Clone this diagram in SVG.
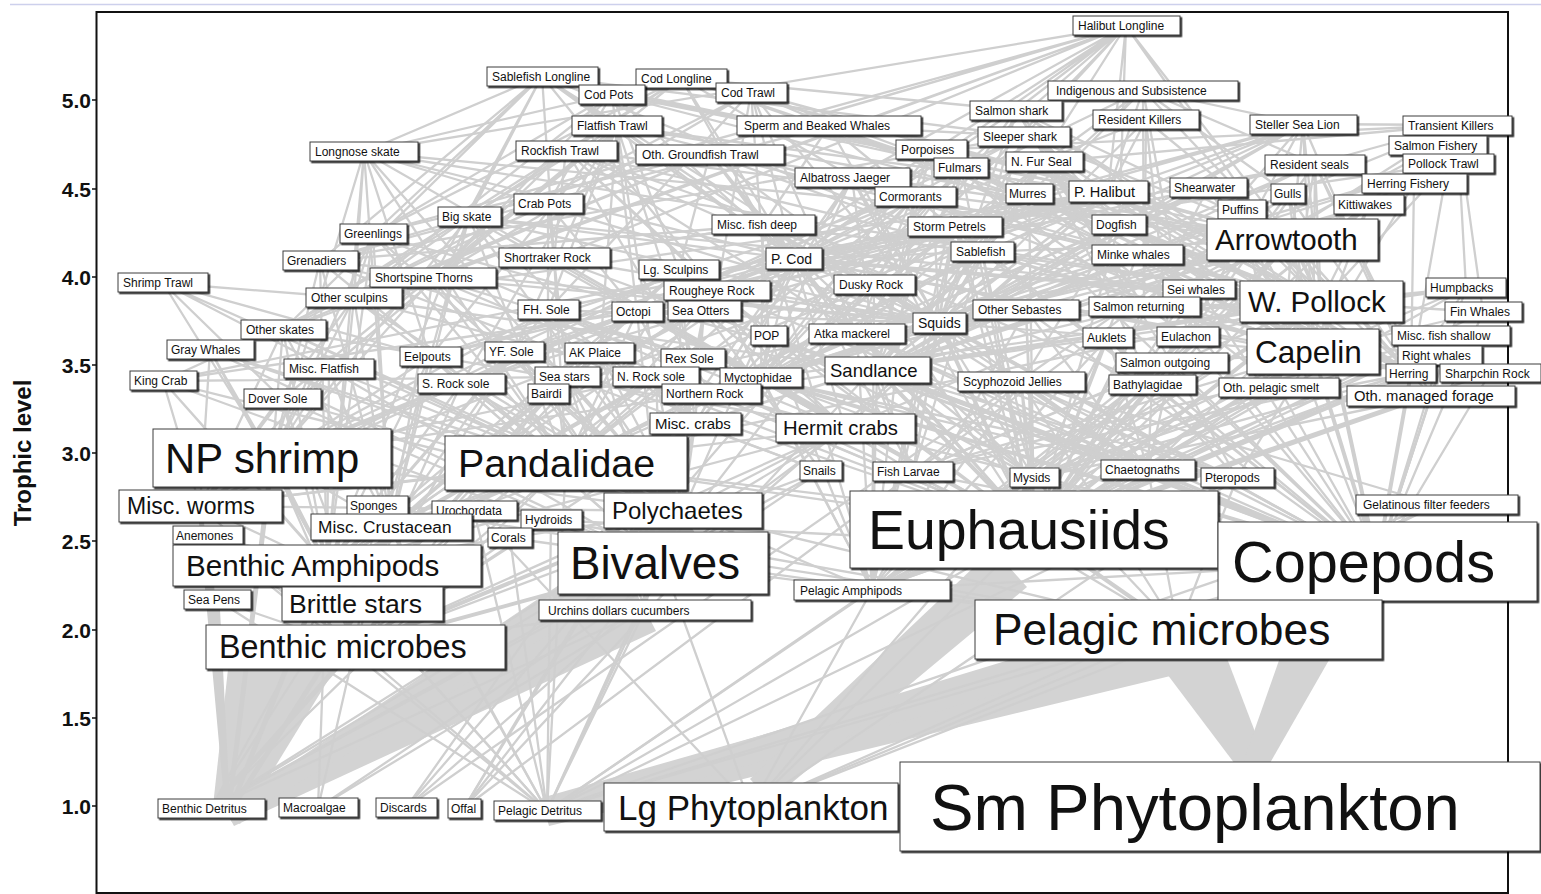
<svg xmlns="http://www.w3.org/2000/svg" width="1541" height="894" viewBox="0 0 1541 894">
<defs>
<filter id="sh" x="-5%" y="-10%" width="115%" height="140%"><feDropShadow dx="1.6" dy="1.6" stdDeviation="0.4" flood-color="#000" flood-opacity="0.85"/></filter>
<style>
text{font-family:"Liberation Sans",Arial,Helvetica,sans-serif;fill:#111}
.nd rect{fill:#fff;stroke:#3c3c3c;stroke-width:1;filter:url(#sh)}
.nd text{font-size:12px}
#connectors path{fill:none;stroke:#cfcfcf;stroke-width:2.3;stroke-linejoin:round;stroke-linecap:round}
#connectors path.m{stroke-width:4}
#connectors path.t{stroke-width:5}
#connectors polygon{fill:#d3d3d3;stroke:none}
.tick{font-size:21px;font-weight:bold;text-anchor:end}
.nd .f14{font-size:14px}.nd .f145{font-size:14.5px}.nd .f148{font-size:14.8px}.nd .f15{font-size:15px}
.nd .f17{font-size:17.3px}.nd .f18{font-size:18.5px}.nd .f20{font-size:20.3px}.nd .f23{font-size:23px}
.nd .f24{font-size:24px}.nd .f26{font-size:26.6px}.nd .f29{font-size:29.5px}.nd .f296{font-size:29.6px}
.nd .f31{font-size:31.5px}.nd .f32{font-size:32.3px}.nd .f35{font-size:35px}.nd .f39{font-size:39.4px}
.nd .f42{font-size:41.8px}.nd .f44{font-size:44.3px}.nd .f45{font-size:45.7px}.nd .f55{font-size:55.4px}
.nd .f57{font-size:57.7px}.nd .f65{font-size:65.3px}
</style>
</defs>
<rect x="0" y="0" width="1541" height="894" fill="#fff"/>
<line x1="10" y1="4.5" x2="1541" y2="4.5" stroke="#cdd0ec" stroke-width="1.5"/>
<g id="connectors">
<polygon points="213,806 240,824 335,669 228,669"/>
<polygon points="222,804 234,826 656,631 624,569"/>
<polygon points="224,808 232,822 702,544 678,506"/>
<polygon points="541,798 549,826 1187,672 1173,618"/>
<polygon points="542,802 548,822 1305,607 1295,573"/>
<polygon points="750,779 770,801 1027,587 993,549"/>
<polygon points="1241,772 1265,758 1220,640 1164,670"/>
<polygon points="1244,760 1266,770 1356,613 1304,589"/>
<path d="M364 152L1126 26L469 217M373 234L1126 26L320 261M433 278L1126 26L554 258M717 291L1126 26L982 252M1108 192L1126 26L1292 240M1119 225L1126 26L1024 136M1016 110L1126 26L794 259M283 330L1126 26L874 285M961 168L1126 26L852 178M1321 302L1126 26"/>
<path d="M982 252L542 76L320 261M433 278L542 76L554 258M717 291L542 76L364 152M469 217L542 76L1292 240M1108 192L542 76L794 259M1024 136L542 76L1119 225M283 330L542 76L763 225M373 234L542 76L874 285"/>
<path d="M794 259L681 78L1108 192M1292 240L681 78L982 252M364 152L681 78L469 217M433 278L681 78L1321 302M1119 225L681 78L283 330M763 225L681 78L373 234M1016 110L681 78"/>
<path d="M794 259L612 94L1108 192M354 298L612 94L679 270M637 312L612 94L433 278M373 234L612 94L548 204"/>
<path d="M163 381L548 204L548 394M637 312L548 204L567 377"/>
<path d="M794 259L751 92L1321 302M1292 240L751 92L1108 192M433 278L751 92L857 334M548 310L751 92L939 323M717 291L751 92L769 336M283 330L751 92L1411 373"/>
<path d="M548 310L617 126L514 352M600 353L617 126L693 359M461 384L617 126L656 377M282 399L617 126L329 369M1292 240L617 126L1108 192M794 259L617 126L1321 302M283 330L617 126L430 357"/>
<path d="M769 336L566 150L711 394M717 291L566 150L554 258M874 285L566 150L1026 310M1490 373L566 150L857 334M433 278L566 150L1292 240"/>
<path d="M857 334L710 154L794 259M1321 302L710 154L1292 240M354 298L710 154L679 270M939 323L710 154L373 234M982 252L710 154L283 330M763 225L710 154"/>
<path d="M566 463L163 283L272 458M430 357L163 283L329 369M354 298L163 283L282 399"/>
<path d="M566 463L364 152L272 458M391 527L364 152L794 259M1321 302L364 152L939 323M354 298L364 152L430 357M845 428L364 152L327 566M683 511L364 152L1292 240"/>
<path d="M566 463L469 217L272 458M391 527L469 217L845 428M683 511L469 217L430 357M1321 302L469 217L939 323M354 298L469 217L695 424M327 566L469 217L794 259"/>
<path d="M566 463L373 234L272 458M391 527L373 234L327 566M683 511L373 234L845 428M354 298L373 234L877 370"/>
<path d="M566 463L320 261L272 458M763 225L320 261L939 323M761 378L320 261L391 527M1034 530L320 261L327 566"/>
<path d="M566 463L433 278L272 458M763 225L433 278L1034 530M939 323L433 278L761 378M391 527L433 278L683 511"/>
<path d="M566 463L354 298L272 458M391 527L354 298L327 566M683 511L354 298L845 428M200 506L354 298L877 370"/>
<path d="M566 463L283 330L272 458M391 527L283 330L327 566M683 511L283 330L200 506M845 428L283 330"/>
<path d="M683 511L329 369L200 506M327 566L329 369L663 563M391 527L329 369L272 458"/>
<path d="M683 511L282 399L200 506M327 566L282 399L663 563M362 604L282 399"/>
<path d="M327 566L210 350L200 506M683 511L210 350L663 563M566 463L210 350L272 458"/>
<path d="M663 563L163 381L683 511M200 506L163 381L362 604M327 566L163 381L567 377"/>
<path d="M683 511L430 357L327 566M200 506L430 357L566 463M663 563L430 357L391 527M362 604L430 357"/>
<path d="M683 511L514 352L327 566M663 563L514 352L200 506M1034 530L514 352L362 604M391 527L514 352"/>
<path d="M683 511L600 353L663 563M362 604L600 353L327 566M200 506L600 353"/>
<path d="M683 511L693 359L327 566M663 563L693 359L391 527M566 463L693 359"/>
<path d="M566 463L548 310L1034 530M683 511L548 310L327 566M272 458L548 310L695 424M939 323L548 310L761 378"/>
<path d="M683 511L461 384L663 563M327 566L461 384L362 604M200 506L461 384"/>
<path d="M683 511L656 377L663 563M327 566L656 377L362 604"/>
<path d="M663 563L567 377L683 511M362 604L567 377L821 471M645 610L567 377"/>
<path d="M663 563L548 394L683 511M327 566L548 394L362 604M391 527L548 394L355 647"/>
<path d="M1034 530L711 394L1377 562M566 463L711 394"/>
<path d="M566 463L637 312L695 424M845 428L637 312L663 563M548 394L637 312L163 381M272 458L637 312"/>
<path d="M645 610L704 311L663 563M695 424L704 311L845 428M548 394L704 311L637 312M821 471L704 311"/>
<path d="M566 463L679 270L845 428M695 424L679 270L683 511M548 394L679 270L272 458M461 384L679 270L391 527M327 566L679 270"/>
<path d="M566 463L717 291L1034 530M939 323L717 291L761 378M391 527L717 291L1377 562M872 590L717 291"/>
<path d="M761 378L554 258L939 323M1034 530L554 258L566 463M763 225L554 258L1377 562"/>
<path d="M1034 530L874 285L1377 562M761 378L874 285L939 323M872 590L874 285L1148 470"/>
<path d="M1034 530L769 336L1377 562M761 378L769 336L1148 470M872 590L769 336L1034 478"/>
<path d="M1034 530L857 334L1377 562M761 378L857 334L939 323M1237 478L857 334L913 472M872 590L857 334L1034 478M1148 470L857 334"/>
<path d="M1034 530L1026 310L1377 562M761 378L1026 310L939 323M872 590L1026 310L1148 470M1034 478L1026 310"/>
<path d="M1034 530L1490 373L1377 562M872 590L1490 373"/>
<path d="M1034 530L763 225L1377 562M761 378L763 225L939 323M872 590L763 225L1152 385M1034 478L763 225L1148 470"/>
<path d="M1321 302L794 259L566 463M1034 530L794 259L845 428M695 424L794 259L1313 352M877 370L794 259L939 323M272 458L794 259L683 511M327 566L794 259L548 394M1411 373L794 259L913 472M761 378L794 259L857 334M430 357L794 259L514 352"/>
<path d="M1321 302L1292 240L1313 352M1034 530L1292 240L566 463M1411 373L1292 240L939 323M877 370L1292 240L761 378M1188 337L1292 240L1431 396M272 458L1292 240L1152 385M794 259L1292 240L845 428M695 424L1292 240"/>
<path d="M794 259L1108 192L1321 302M1292 240L1108 192L566 463M845 428L1108 192L163 381M877 370L1108 192L939 323M1313 352L1108 192L1411 373M354 298L1108 192L548 394M548 310L1108 192L637 312M430 357L1108 192L514 352M693 359L1108 192L461 384"/>
<path d="M939 323L982 252L1321 302M1034 530L982 252L761 378M1313 352L982 252L1411 373M877 370L982 252L1152 385M566 463L982 252L763 225M913 472L982 252L1034 478"/>
<path d="M939 323L1119 225L1321 302M1411 373L1119 225L1313 352M1034 530L1119 225L1021 382M877 370L1119 225L761 378M566 463L1119 225"/>
<path d="M939 323L1016 110L982 252M1144 307L1016 110L1172 363M1321 302L1016 110L1292 240M1119 225L1016 110L794 259M1411 373L1016 110L857 334"/>
<path d="M939 323L1024 136L637 312M1108 192L1024 136L1292 240M1321 302L1024 136L982 252M794 259L1024 136L320 261"/>
<path d="M1144 307L1143 90L1108 192M1411 373L1143 90L1303 124M1315 164L1143 90L1044 162M1188 337L1143 90L982 252M794 259L1143 90L1029 194M1288 194L1143 90"/>
<path d="M1144 307L1146 120L1108 192M1172 363L1146 120L939 323M794 259L1146 120L1292 240"/>
<path d="M1303 124L1457 125L1315 164M1466 288L1457 125L1137 255M931 150L1457 125L1044 162M1483 312L1457 125L1199 289"/>
<path d="M1321 302L1303 124L1313 352M1411 373L1303 124L857 334M1144 307L1303 124L939 323M877 370L1303 124L794 259M1292 240L1303 124L1188 337M1279 388L1303 124L1108 192M637 312L1303 124L982 252"/>
<path d="M1321 302L1315 164L1313 352M1411 373L1315 164L939 323M877 370L1315 164L1188 337M1279 388L1315 164L637 312M794 259L1315 164L1431 396"/>
<path d="M1144 307L1438 146L1172 363"/>
<path d="M1321 302L1448 164L1411 373M1292 240L1448 164L794 259M857 334L1448 164L939 323"/>
<path d="M1411 373L1414 184L1313 352"/>
<path d="M1034 530L1208 188L939 323M877 370L1208 188L1313 352M761 378L1208 188L1321 302M1411 373L1208 188"/>
<path d="M1313 352L1288 194L877 370M1411 373L1288 194L1321 302M1034 530L1288 194L464 808M406 808L1288 194"/>
<path d="M1313 352L1242 210L877 370M1034 530L1242 210L1321 302M1377 562L1242 210L1279 388"/>
<path d="M1313 352L1369 205L877 370M1034 530L1369 205L761 378M1321 302L1369 205L872 590"/>
<path d="M1313 352L1029 194L877 370M1321 302L1029 194L1034 530M1411 373L1029 194L1279 388"/>
<path d="M939 323L961 168L1034 530M761 378L961 168L464 808M406 808L961 168L877 370M872 590L961 168L1377 562"/>
<path d="M939 323L852 178L761 378M464 808L852 178L406 808M877 370L852 178L1034 530M1321 302L852 178"/>
<path d="M877 370L915 196L1313 352M761 378L915 196L430 357M695 424L915 196L461 384M872 590L915 196L566 463M272 458L915 196"/>
<path d="M1034 530L955 227L1377 562M761 378L955 227L872 590M913 472L955 227L1034 478"/>
<path d="M1321 302L931 150L939 323M1411 373L931 150L1313 352M877 370L931 150L1188 337M761 378L931 150L857 334"/>
<path d="M1321 302L1044 162L939 323M1313 352L1044 162L1411 373M857 334L1044 162L877 370M1152 385L1044 162L761 378M1144 307L1044 162"/>
<path d="M939 323L829 126L982 252M320 261L829 126L763 225M1119 225L829 126L1024 136"/>
<path d="M1321 302L1137 255L1313 352M1411 373L1137 255L1034 530M877 370L1137 255L1377 562M761 378L1137 255"/>
<path d="M1377 562L1199 289L1034 530M1313 352L1199 289"/>
<path d="M1034 530L1466 288L1377 562M1313 352L1466 288L1411 373M877 370L1466 288L1321 302"/>
<path d="M1034 530L1483 312L1377 562M1313 352L1483 312L1321 302"/>
<path d="M1377 562L1440 356L1034 530"/>
<path d="M1034 530L1451 336L1377 562M872 590L1451 336L1034 478M913 472L1451 336"/>
<path d="M1034 530L1431 396L1377 562M872 590L1431 396L1034 478"/>
<path d="M1034 530L1411 373L1377 562M872 590L1411 373L1148 470M1034 478L1411 373L913 472"/>
<path d="M1034 530L1313 352L1377 562M872 590L1313 352L1148 470M1034 478L1313 352L1237 478M913 472L1313 352"/>
<path d="M1034 530L1321 302L1377 562M1313 352L1321 302L761 378M566 463L1321 302L872 590M1148 470L1321 302L1034 478M939 323L1321 302L913 472M272 458L1321 302L877 370M1188 337L1321 302"/>
<path d="M1034 530L939 323L1377 562M761 378L939 323L913 472M872 590L939 323L1313 352M1321 302L939 323L877 370M1034 478L939 323L1148 470"/>
<path d="M1034 530L761 378L1377 562M872 590L761 378L1148 470M1237 478L761 378L1034 478M913 472L761 378"/>
<path d="M1034 530L1152 385L1377 562M872 590L1152 385L1148 470M1034 478L1152 385"/>
<path d="M1034 530L1279 388L1377 562M872 590L1279 388L1034 478"/>
<path d="M1034 530L1188 337L1377 562M1034 478L1188 337L872 590"/>
<path d="M1034 530L1144 307L1313 352M1411 373L1144 307L939 323M877 370L1144 307L1321 302"/>
<path d="M1034 530L1172 363L1377 562M1313 352L1172 363L913 472M1148 470L1172 363L872 590M1237 478L1172 363"/>
<path d="M1034 530L1108 338L1377 562M872 590L1108 338L1148 470M1034 478L1108 338L1237 478"/>
<path d="M1034 530L877 370L1377 562M872 590L877 370L1148 470M1034 478L877 370L1237 478M913 472L877 370"/>
<path d="M1377 562L1021 382L1034 530M913 472L1021 382L1148 470M872 590L1021 382L1237 478M1437 505L1021 382L1178 630M1034 478L1021 382"/>
<path d="M683 511L845 428L663 563M327 566L845 428L355 647M211 808L845 428L200 506M821 471L845 428"/>
<path d="M683 511L695 424L663 563M327 566L695 424L391 527M355 647L695 424L821 471"/>
<path d="M327 566L566 463L391 527M683 511L566 463L200 506M355 647L566 463L1034 530M1377 562L566 463L872 590M211 808L566 463L547 811"/>
<path d="M327 566L272 458L200 506M391 527L272 458L683 511M355 647L272 458"/>
<path d="M355 647L821 471L211 808M318 808L821 471"/>
<path d="M1377 562L913 472L1178 630"/>
<path d="M1377 562L1034 478L1178 630M751 807L1034 478L547 811"/>
<path d="M1377 562L1148 470L1178 630M1034 530L1148 470"/>
<path d="M1178 630L1237 478L547 811M751 807L1237 478"/>
<path d="M355 647L200 506M327 566L200 506"/>
<path d="M355 647L377 506L211 808M547 811L377 506L1178 630"/>
<path d="M751 807L474 511L547 811M355 647L474 511"/>
<path d="M355 647L683 511L211 808M547 811L683 511L327 566M200 506L683 511L1178 630"/>
<path d="M1377 562L551 520L1178 630M355 647L551 520L547 811"/>
<path d="M355 647L391 527L211 808M547 811L391 527"/>
<path d="M1377 562L1034 530L1178 630M751 807L1034 530L547 811M872 590L1034 530"/>
<path d="M1178 630L1437 505L547 811M751 807L1437 505"/>
<path d="M355 647L208 535L327 566M547 811L208 535"/>
<path d="M1178 630L510 538L355 647M547 811L510 538"/>
<path d="M355 647L663 563L211 808M547 811L663 563L1178 630M751 807L663 563"/>
<path d="M1178 630L1377 562L547 811M751 807L1377 562"/>
<path d="M355 647L327 566M547 811L327 566L318 808"/>
<path d="M355 647L217 600M547 811L217 600"/>
<path d="M547 811L362 604"/>
<path d="M1377 562L872 590L1178 630M751 807L872 590L547 811"/>
<path d="M355 647L645 610L211 808M318 808L645 610L547 811"/>
<path d="M547 811L1178 630L751 807"/>
<path d="M547 811L355 647M318 808L355 647"/>
<path d="M794 259L464 808L982 252M406 808L1108 192"/>
<path class="t" d="M200 506L228 815L217 600M208 535L228 815L327 566M272 458L228 815L362 604M211 808L355 647"/>
<path class="m" d="M1034 530L1321 302L1377 562M1034 530L1313 352L1377 562M1034 530L1411 373L1377 562M1034 530L877 370L1377 562M1034 530L761 378L1377 562M1034 530L939 323L761 378M1321 302L1292 240M1321 302L794 259M327 566L566 463L683 511M327 566L272 458L200 506M355 647L683 511M355 647L663 563M1178 630L1034 530"/>
</g>
<rect id="frame" x="96.5" y="12" width="1411.5" height="881" fill="none" stroke="#111" stroke-width="2"/>
<g id="axis">
<path d="M92 100H97M92 189H97M92 277H97M92 365H97M92 453H97M92 541H97M92 630H97M92 718H97M92 806H97" stroke="#111" stroke-width="1.5"/>
<text class="tick" x="91" y="108">5.0</text>
<text class="tick" x="91" y="197">4.5</text>
<text class="tick" x="91" y="285">4.0</text>
<text class="tick" x="91" y="373">3.5</text>
<text class="tick" x="91" y="461">3.0</text>
<text class="tick" x="91" y="549">2.5</text>
<text class="tick" x="91" y="638">2.0</text>
<text class="tick" x="91" y="726">1.5</text>
<text class="tick" x="91" y="814">1.0</text>
<text transform="translate(31,453) rotate(-90)" text-anchor="middle" font-size="24" font-weight="bold">Trophic level</text>
</g>
<g id="nodes">
<g id="halibut-longline" class="nd"><rect x="1073" y="16" width="107" height="19"/><text x="1078" y="30">Halibut Longline</text></g>
<g id="sablefish-longline" class="nd"><rect x="487" y="67" width="111" height="19"/><text x="492" y="81">Sablefish Longline</text></g>
<g id="cod-longline" class="nd"><rect x="636" y="69" width="91" height="19"/><text x="641" y="83">Cod Longline</text></g>
<g id="cod-pots" class="nd"><rect x="579" y="85" width="66" height="19"/><text x="584" y="99">Cod Pots</text></g>
<g id="cod-trawl" class="nd"><rect x="716" y="83" width="71" height="19"/><text x="721" y="97">Cod Trawl</text></g>
<g id="indigenous-subsistence" class="nd"><rect x="1048" y="81" width="190" height="19"/><text x="1056" y="95">Indigenous and Subsistence</text></g>
<g id="salmon-shark" class="nd"><rect x="970" y="101" width="92" height="19"/><text x="975" y="115">Salmon shark</text></g>
<g id="flatfish-trawl" class="nd"><rect x="572" y="116" width="90" height="19"/><text x="577" y="130">Flatfish Trawl</text></g>
<g id="sperm-beaked-whales" class="nd"><rect x="737" y="116" width="184" height="19"/><text x="744" y="130">Sperm and Beaked Whales</text></g>
<g id="resident-killers" class="nd"><rect x="1093" y="110" width="106" height="19"/><text x="1098" y="124">Resident Killers</text></g>
<g id="steller-sea-lion" class="nd"><rect x="1250" y="115" width="107" height="19"/><text x="1255" y="129">Steller Sea Lion</text></g>
<g id="transient-killers" class="nd"><rect x="1403" y="116" width="109" height="19"/><text x="1408" y="130">Transient Killers</text></g>
<g id="sleeper-shark" class="nd"><rect x="978" y="127" width="92" height="19"/><text x="983" y="141">Sleeper shark</text></g>
<g id="longnose-skate" class="nd"><rect x="310" y="142" width="108" height="19"/><text x="315" y="156">Longnose skate</text></g>
<g id="rockfish-trawl" class="nd"><rect x="516" y="141" width="101" height="19"/><text x="521" y="155">Rockfish Trawl</text></g>
<g id="oth-groundfish-trawl" class="nd"><rect x="636" y="145" width="148" height="19"/><text x="642" y="159">Oth. Groundfish Trawl</text></g>
<g id="porpoises" class="nd"><rect x="896" y="140" width="71" height="19"/><text x="901" y="154">Porpoises</text></g>
<g id="salmon-fishery" class="nd"><rect x="1389" y="136" width="98" height="19"/><text x="1394" y="150">Salmon Fishery</text></g>
<g id="fulmars" class="nd"><rect x="934" y="158" width="54" height="19"/><text x="938" y="172">Fulmars</text></g>
<g id="n-fur-seal" class="nd"><rect x="1006" y="152" width="77" height="19"/><text x="1011" y="166">N. Fur Seal</text></g>
<g id="resident-seals" class="nd"><rect x="1265" y="155" width="100" height="19"/><text x="1270" y="169">Resident seals</text></g>
<g id="pollock-trawl" class="nd"><rect x="1403" y="154" width="91" height="19"/><text x="1408" y="168">Pollock Trawl</text></g>
<g id="albatross-jaeger" class="nd"><rect x="795" y="168" width="115" height="19"/><text x="800" y="182">Albatross Jaeger</text></g>
<g id="herring-fishery" class="nd"><rect x="1362" y="174" width="105" height="19"/><text x="1367" y="188">Herring Fishery</text></g>
<g id="cormorants" class="nd"><rect x="875" y="187" width="81" height="19"/><text x="879" y="201">Cormorants</text></g>
<g id="murres" class="nd"><rect x="1006" y="184" width="47" height="19"/><text x="1009" y="198">Murres</text></g>
<g id="p-halibut" class="nd"><rect x="1069" y="181" width="79" height="21"/><text class="f145" x="1074" y="197">P. Halibut</text></g>
<g id="shearwater" class="nd"><rect x="1170" y="178" width="77" height="19"/><text x="1174" y="192">Shearwater</text></g>
<g id="gulls" class="nd"><rect x="1271" y="184" width="34" height="19"/><text x="1274" y="198">Gulls</text></g>
<g id="puffins" class="nd"><rect x="1218" y="200" width="48" height="19"/><text x="1222" y="214">Puffins</text></g>
<g id="kittiwakes" class="nd"><rect x="1334" y="195" width="70" height="19"/><text x="1338" y="209">Kittiwakes</text></g>
<g id="crab-pots" class="nd"><rect x="514" y="194" width="69" height="19"/><text x="518" y="208">Crab Pots</text></g>
<g id="big-skate" class="nd"><rect x="438" y="207" width="63" height="19"/><text x="442" y="221">Big skate</text></g>
<g id="greenlings" class="nd"><rect x="340" y="224" width="67" height="19"/><text x="344" y="238">Greenlings</text></g>
<g id="misc-fish-deep" class="nd"><rect x="712" y="215" width="103" height="19"/><text x="717" y="229">Misc. fish deep</text></g>
<g id="storm-petrels" class="nd"><rect x="908" y="217" width="94" height="19"/><text x="913" y="231">Storm Petrels</text></g>
<g id="dogfish" class="nd"><rect x="1092" y="215" width="54" height="19"/><text x="1096" y="229">Dogfish</text></g>
<g id="arrowtooth" class="nd"><rect x="1207" y="219" width="171" height="41"/><text class="f29" x="1215" y="250">Arrowtooth</text></g>
<g id="grenadiers" class="nd"><rect x="283" y="251" width="75" height="19"/><text x="287" y="265">Grenadiers</text></g>
<g id="shortraker-rock" class="nd"><rect x="499" y="248" width="111" height="19"/><text x="504" y="262">Shortraker Rock</text></g>
<g id="p-cod" class="nd"><rect x="766" y="248" width="56" height="21"/><text class="f14" x="771" y="264">P. Cod</text></g>
<g id="sablefish" class="nd"><rect x="951" y="242" width="63" height="19"/><text x="956" y="256">Sablefish</text></g>
<g id="minke-whales" class="nd"><rect x="1092" y="245" width="91" height="19"/><text x="1097" y="259">Minke whales</text></g>
<g id="shrimp-trawl" class="nd"><rect x="118" y="273" width="90" height="19"/><text x="123" y="287">Shrimp Trawl</text></g>
<g id="shortspine-thorns" class="nd"><rect x="370" y="268" width="126" height="19"/><text x="375" y="282">Shortspine Thorns</text></g>
<g id="lg-sculpins" class="nd"><rect x="639" y="260" width="80" height="19"/><text x="643" y="274">Lg. Sculpins</text></g>
<g id="rougheye-rock" class="nd"><rect x="664" y="281" width="106" height="19"/><text x="669" y="295">Rougheye Rock</text></g>
<g id="dusky-rock" class="nd"><rect x="834" y="275" width="81" height="19"/><text x="839" y="289">Dusky Rock</text></g>
<g id="sei-whales" class="nd"><rect x="1163" y="280" width="72" height="18"/><text x="1167" y="293.5">Sei whales</text></g>
<g id="w-pollock" class="nd"><rect x="1240" y="281" width="163" height="41"/><text class="f29" x="1248" y="312">W. Pollock</text></g>
<g id="humpbacks" class="nd"><rect x="1426" y="278" width="80" height="19"/><text x="1430" y="292">Humpbacks</text></g>
<g id="other-sculpins" class="nd"><rect x="306" y="288" width="96" height="19"/><text x="311" y="302">Other sculpins</text></g>
<g id="fh-sole" class="nd"><rect x="518" y="300" width="61" height="19"/><text x="523" y="314">FH. Sole</text></g>
<g id="octopi" class="nd"><rect x="612" y="302" width="51" height="19"/><text x="616" y="316">Octopi</text></g>
<g id="sea-otters" class="nd"><rect x="668" y="301" width="73" height="19"/><text x="672" y="315">Sea Otters</text></g>
<g id="other-sebastes" class="nd"><rect x="973" y="300" width="106" height="19"/><text x="978" y="314">Other Sebastes</text></g>
<g id="salmon-returning" class="nd"><rect x="1089" y="297" width="111" height="19"/><text x="1093" y="311">Salmon returning</text></g>
<g id="fin-whales" class="nd"><rect x="1445" y="302" width="77" height="19"/><text x="1450" y="316">Fin Whales</text></g>
<g id="squids" class="nd"><rect x="913" y="313" width="53" height="20"/><text class="f14" x="918" y="328">Squids</text></g>
<g id="atka-mackerel" class="nd"><rect x="809" y="324" width="96" height="19"/><text x="814" y="338">Atka mackerel</text></g>
<g id="pop" class="nd"><rect x="751" y="326" width="36" height="19"/><text x="754" y="340">POP</text></g>
<g id="other-skates" class="nd"><rect x="241" y="320" width="85" height="19"/><text x="246" y="334">Other skates</text></g>
<g id="auklets" class="nd"><rect x="1083" y="328" width="50" height="19"/><text x="1087" y="342">Auklets</text></g>
<g id="eulachon" class="nd"><rect x="1157" y="327" width="62" height="19"/><text x="1161" y="341">Eulachon</text></g>
<g id="capelin" class="nd"><rect x="1247" y="329" width="132" height="45"/><text class="f31" x="1255" y="363">Capelin</text></g>
<g id="misc-fish-shallow" class="nd"><rect x="1392" y="326" width="118" height="19"/><text x="1397" y="340">Misc. fish shallow</text></g>
<g id="gray-whales" class="nd"><rect x="167" y="340" width="87" height="19"/><text x="171" y="354">Gray Whales</text></g>
<g id="eelpouts" class="nd"><rect x="400" y="347" width="61" height="19"/><text x="404" y="361">Eelpouts</text></g>
<g id="yf-sole" class="nd"><rect x="485" y="342" width="59" height="19"/><text x="489" y="356">YF. Sole</text></g>
<g id="ak-plaice" class="nd"><rect x="565" y="343" width="69" height="19"/><text x="569" y="357">AK Plaice</text></g>
<g id="rex-sole" class="nd"><rect x="661" y="349" width="64" height="19"/><text x="665" y="363">Rex Sole</text></g>
<g id="right-whales" class="nd"><rect x="1398" y="346" width="84" height="19"/><text x="1402" y="360">Right whales</text></g>
<g id="misc-flatfish" class="nd"><rect x="284" y="359" width="90" height="19"/><text x="289" y="373">Misc. Flatfish</text></g>
<g id="sandlance" class="nd"><rect x="825" y="357" width="105" height="26"/><text class="f18" x="830" y="377">Sandlance</text></g>
<g id="salmon-outgoing" class="nd"><rect x="1116" y="353" width="112" height="19"/><text x="1120" y="367">Salmon outgoing</text></g>
<g id="herring" class="nd"><rect x="1386" y="364" width="50" height="18"/><text x="1389" y="377.5">Herring</text></g>
<g id="sharpchin-rock" class="nd"><rect x="1440" y="364" width="101" height="18"/><text x="1445" y="377.5">Sharpchin Rock</text></g>
<g id="king-crab" class="nd"><rect x="130" y="371" width="67" height="19"/><text x="134" y="385">King Crab</text></g>
<g id="sea-stars" class="nd"><rect x="535" y="367" width="65" height="19"/><text x="539" y="381">Sea stars</text></g>
<g id="n-rock-sole" class="nd"><rect x="613" y="367" width="86" height="19"/><text x="617" y="381">N. Rock sole</text></g>
<g id="myctophidae" class="nd"><rect x="720" y="368" width="82" height="19"/><text x="724" y="382">Myctophidae</text></g>
<g id="s-rock-sole" class="nd"><rect x="418" y="374" width="87" height="19"/><text x="422" y="388">S. Rock sole</text></g>
<g id="scyphozoid-jellies" class="nd"><rect x="958" y="372" width="127" height="19"/><text x="963" y="386">Scyphozoid Jellies</text></g>
<g id="bathylagidae" class="nd"><rect x="1109" y="375" width="87" height="19"/><text x="1113" y="389">Bathylagidae</text></g>
<g id="oth-pelagic-smelt" class="nd"><rect x="1219" y="378" width="120" height="19"/><text x="1223" y="392">Oth. pelagic smelt</text></g>
<g id="bairdi" class="nd"><rect x="528" y="384" width="41" height="19"/><text x="531" y="398">Bairdi</text></g>
<g id="northern-rock" class="nd"><rect x="662" y="384" width="99" height="19"/><text x="666" y="398">Northern Rock</text></g>
<g id="oth-managed-forage" class="nd"><rect x="1347" y="386" width="168" height="20"/><text class="f148" x="1354" y="401">Oth. managed forage</text></g>
<g id="dover-sole" class="nd"><rect x="244" y="389" width="77" height="19"/><text x="248" y="403">Dover Sole</text></g>
<g id="misc-crabs" class="nd"><rect x="650" y="413" width="91" height="21"/><text class="f15" x="655" y="429">Misc. crabs</text></g>
<g id="hermit-crabs" class="nd"><rect x="776" y="414" width="139" height="28"/><text class="f20" x="783" y="435">Hermit crabs</text></g>
<g id="np-shrimp" class="nd"><rect x="153" y="429" width="238" height="58"/><text class="f42" x="165" y="473">NP shrimp</text></g>
<g id="pandalidae" class="nd"><rect x="445" y="436" width="242" height="54"/><text class="f39" x="458" y="477">Pandalidae</text></g>
<g id="snails" class="nd"><rect x="800" y="461" width="42" height="19"/><text x="803" y="475">Snails</text></g>
<g id="fish-larvae" class="nd"><rect x="873" y="462" width="80" height="19"/><text x="877" y="476">Fish Larvae</text></g>
<g id="mysids" class="nd"><rect x="1010" y="468" width="49" height="19"/><text x="1013" y="482">Mysids</text></g>
<g id="chaetognaths" class="nd"><rect x="1101" y="460" width="94" height="19"/><text x="1105" y="474">Chaetognaths</text></g>
<g id="pteropods" class="nd"><rect x="1201" y="468" width="73" height="19"/><text x="1205" y="482">Pteropods</text></g>
<g id="misc-worms" class="nd"><rect x="119" y="490" width="163" height="32"/><text class="f23" x="127" y="514">Misc. worms</text></g>
<g id="sponges" class="nd"><rect x="347" y="496" width="61" height="19"/><text x="350" y="510">Sponges</text></g>
<g id="urochordata" class="nd"><rect x="432" y="501" width="85" height="19"/><text x="436" y="515">Urochordata</text></g>
<g id="polychaetes" class="nd"><rect x="604" y="493" width="158" height="35"/><text class="f24" x="612" y="519">Polychaetes</text></g>
<g id="hydroids" class="nd"><rect x="521" y="510" width="61" height="19"/><text x="525" y="524">Hydroids</text></g>
<g id="misc-crustacean" class="nd"><rect x="311" y="514" width="161" height="26"/><text class="f17" x="318" y="533">Misc. Crustacean</text></g>
<g id="euphausiids" class="nd"><rect x="850" y="491" width="368" height="77"/><text class="f55" x="868" y="549">Euphausiids</text></g>
<g id="gelatinous-filter-feeders" class="nd"><rect x="1356" y="495" width="162" height="19"/><text x="1363" y="509">Gelatinous filter feeders</text></g>
<g id="anemones" class="nd"><rect x="173" y="526" width="70" height="18"/><text x="176" y="539.5">Anemones</text></g>
<g id="corals" class="nd"><rect x="488" y="528" width="44" height="19"/><text x="491" y="542">Corals</text></g>
<g id="bivalves" class="nd"><rect x="558" y="532" width="210" height="62"/><text class="f45" x="570" y="579">Bivalves</text></g>
<g id="copepods" class="nd"><rect x="1218" y="522" width="319" height="79"/><text class="f57" x="1232" y="582">Copepods</text></g>
<g id="benthic-amphipods" class="nd"><rect x="173" y="545" width="308" height="41"/><text class="f296" x="186" y="576">Benthic Amphipods</text></g>
<g id="sea-pens" class="nd"><rect x="184" y="590" width="67" height="19"/><text x="188" y="604">Sea Pens</text></g>
<g id="brittle-stars" class="nd"><rect x="282" y="587" width="161" height="34"/><text class="f26" x="289" y="613">Brittle stars</text></g>
<g id="pelagic-amphipods" class="nd"><rect x="794" y="580" width="156" height="20"/><text x="800" y="594.5">Pelagic Amphipods</text></g>
<g id="urchins-dollars-cucumbers" class="nd"><rect x="539" y="600" width="212" height="20"/><text x="548" y="614.5">Urchins dollars cucumbers</text></g>
<g id="pelagic-microbes" class="nd"><rect x="975" y="600" width="407" height="59"/><text class="f44" x="993" y="645">Pelagic microbes</text></g>
<g id="benthic-microbes" class="nd"><rect x="206" y="625" width="299" height="44"/><text class="f32" x="219" y="658">Benthic microbes</text></g>
<g id="benthic-detritus" class="nd"><rect x="158" y="799" width="107" height="19"/><text x="162" y="813">Benthic Detritus</text></g>
<g id="macroalgae" class="nd"><rect x="279" y="798" width="79" height="19"/><text x="283" y="812">Macroalgae</text></g>
<g id="discards" class="nd"><rect x="376" y="798" width="61" height="19"/><text x="380" y="812">Discards</text></g>
<g id="offal" class="nd"><rect x="448" y="799" width="33" height="19"/><text x="451" y="813">Offal</text></g>
<g id="pelagic-detritus" class="nd"><rect x="494" y="801" width="107" height="19"/><text x="498" y="815">Pelagic Detritus</text></g>
<g id="lg-phytoplankton" class="nd"><rect x="604" y="783" width="294" height="48"/><text class="f35" x="618" y="820">Lg Phytoplankton</text></g>
<g id="sm-phytoplankton" class="nd"><rect x="900" y="762" width="640" height="89"/><text class="f65" x="930" y="830">Sm Phytoplankton</text></g>
</g>
</svg>
